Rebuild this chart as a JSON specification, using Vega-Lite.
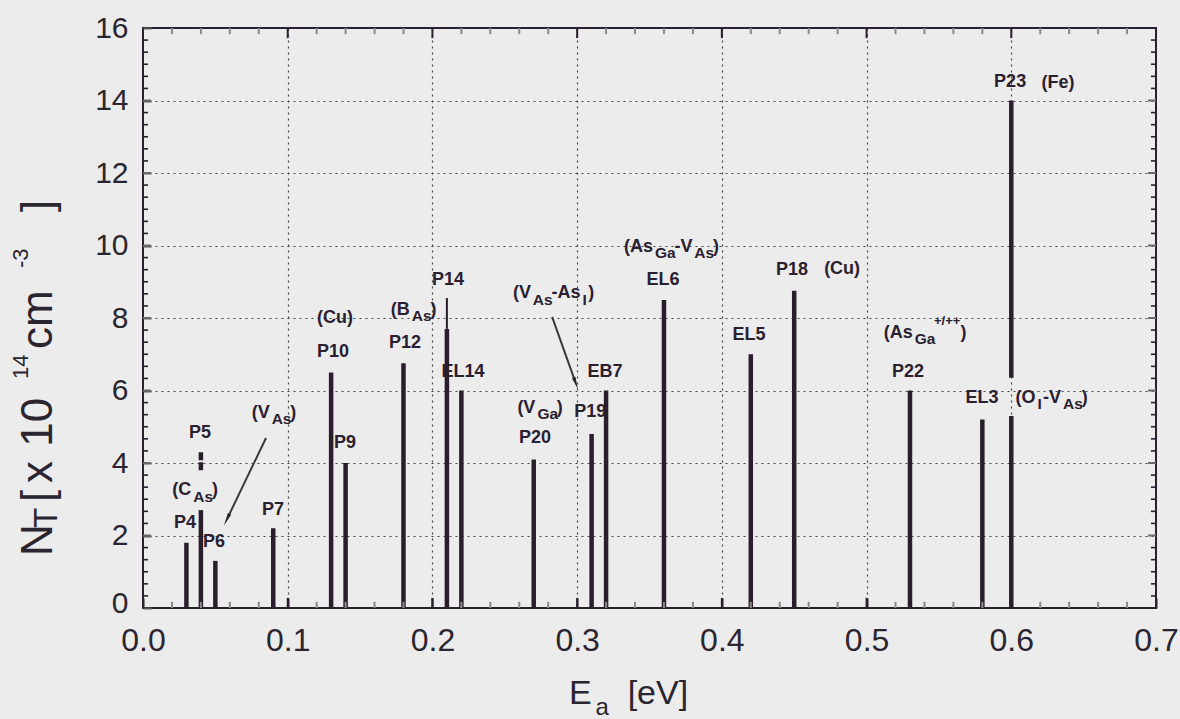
{
  "$schema": "https://vega.github.io/schema/vega-lite/v6.json",
  "width": 1013,
  "height": 580,
  "autosize": {"type": "none"},
  "padding": {"left": 143, "top": 28, "right": 24, "bottom": 111},
  "background": "#ececec",
  "config": {
    "view": {"stroke": "#2b2030", "strokeWidth": 2, "fill": "#ececec"},
    "axis": {"domain": false, "title": null, "labelOverlap": false, "labelFlush": false, "grid": false, "ticks": true}
  },
  "resolve": {"axis": {"x": "independent", "y": "independent"}, "scale": {"size": "independent"}},
  "layer": [
    {
      "data": {"values": [
        {"name": "P4", "E": 0.03, "lo": 0, "hi": 1.8},
        {"name": "CAs", "E": 0.04, "lo": 0, "hi": 2.7},
        {"name": "P6", "E": 0.05, "lo": 0, "hi": 1.3},
        {"name": "P7", "E": 0.09, "lo": 0, "hi": 2.2},
        {"name": "P10", "E": 0.13, "lo": 0, "hi": 6.5},
        {"name": "P9", "E": 0.14, "lo": 0, "hi": 4.0},
        {"name": "P12", "E": 0.18, "lo": 0, "hi": 6.75},
        {"name": "P14", "E": 0.21, "lo": 0, "hi": 7.7},
        {"name": "EL14", "E": 0.22, "lo": 0, "hi": 6.0},
        {"name": "P20", "E": 0.27, "lo": 0, "hi": 4.1},
        {"name": "P19", "E": 0.31, "lo": 0, "hi": 4.8},
        {"name": "EB7", "E": 0.32, "lo": 0, "hi": 6.0},
        {"name": "EL6", "E": 0.36, "lo": 0, "hi": 8.5},
        {"name": "EL5", "E": 0.42, "lo": 0, "hi": 7.0},
        {"name": "P18", "E": 0.45, "lo": 0, "hi": 8.75},
        {"name": "P22", "E": 0.53, "lo": 0, "hi": 6.0},
        {"name": "EL3", "E": 0.58, "lo": 0, "hi": 5.2},
        {"name": "P23", "E": 0.60, "lo": 0, "hi": 5.3},
        {"name": "P23", "E": 0.60, "lo": 6.35, "hi": 14.0}
      ]},
      "mark": {"type": "rule", "strokeWidth": 4.5, "color": "#2a1e2c", "strokeCap": "butt"},
      "encoding": {
        "x": {"field": "E", "type": "quantitative",
          "scale": {"domain": [0, 0.7], "nice": false, "zero": false},
          "axis": {
            "orient": "bottom",
            "values": [0, 0.1, 0.2, 0.3, 0.4, 0.5, 0.6, 0.7],
            "format": ".1f",
            "labelFont": "Liberation Sans", "labelFontSize": 32, "labelColor": "#2b2530",
            "labelPadding": 17,
            "offset": -10,
            "tickSize": 10,
            "tickColor": "#2b2030",
            "tickWidth": 2
          }
        },
        "y": {"field": "lo", "type": "quantitative",
          "scale": {"domain": [0, 16], "nice": false, "zero": false},
          "axis": {
            "orient": "left",
            "values": [0, 2, 4, 6, 8, 10, 12, 14, 16],
            "format": "d",
            "labelFont": "Liberation Sans", "labelFontSize": 30, "labelColor": "#2b2530",
            "labelPadding": 15,
            "labelOffset": {"condition": {"test": "datum.value === 0", "value": -5}, "value": 0},
            "offset": -8,
            "tickSize": 8,
            "tickColor": "#5a5a5a",
            "tickWidth": 2
          }
        },
        "y2": {"field": "hi"}
      }
    },
    {
      "data": {"values": [{"E": 0.21, "lo": 7.7, "hi": 8.55}]},
      "mark": {"type": "rule", "strokeWidth": 2, "color": "#2a1e2c"},
      "encoding": {
        "x": {"field": "E", "type": "quantitative", "axis": null},
        "y": {"field": "lo", "type": "quantitative", "axis": null},
        "y2": {"field": "hi"}
      }
    },
    {
      "data": {"values": [{"E": 0.04, "lo": 3.8, "hi": 4.3}]},
      "mark": {"type": "rule", "strokeWidth": 4.5, "color": "#2a1e2c", "strokeDash": [8, 2]},
      "encoding": {
        "x": {"field": "E", "type": "quantitative",
          "axis": {
            "orient": "bottom",
            "values": [0.1, 0.2, 0.3, 0.4, 0.5, 0.6],
            "labels": false,
            "ticks": false,
            "grid": true,
            "gridDash": [2, 4],
            "gridColor": "#444444",
            "gridWidth": 1.2
          }
        },
        "y": {"field": "lo", "type": "quantitative",
          "axis": {
            "orient": "left",
            "values": [2, 4, 6, 8, 10, 12, 14],
            "labels": false,
            "ticks": false,
            "grid": true,
            "gridDash": [2, 4],
            "gridColor": "#444444",
            "gridWidth": 1.2
          }
        },
        "y2": {"field": "hi"}
      }
    },
    {
      "data": {"values": [{"E": 0.1}, {"E": 0.2}, {"E": 0.3}, {"E": 0.4}, {"E": 0.5}, {"E": 0.6}]},
      "mark": {"type": "rule", "color": "#2b2030", "strokeWidth": 2},
      "encoding": {
        "x": {"field": "E", "type": "quantitative", "axis": null},
        "y": {"datum": 0, "type": "quantitative", "axis": null},
        "y2": {"datum": 0.28}
      }
    },
    {
      "data": {"values": [{"E": 0.1}, {"E": 0.2}, {"E": 0.3}, {"E": 0.4}, {"E": 0.5}, {"E": 0.6}]},
      "mark": {"type": "rule", "color": "#2b2030", "strokeWidth": 2},
      "encoding": {
        "x": {"field": "E", "type": "quantitative", "axis": null},
        "y": {"datum": 16, "type": "quantitative", "axis": null},
        "y2": {"datum": 15.72}
      }
    },
    {
      "data": {"values": [{"E":0.02},{"E":0.04},{"E":0.06},{"E":0.08},{"E":0.12},{"E":0.14},{"E":0.16},{"E":0.18},{"E":0.22},{"E":0.24},{"E":0.26},{"E":0.28},{"E":0.32},{"E":0.34},{"E":0.36},{"E":0.38},{"E":0.42},{"E":0.44},{"E":0.46},{"E":0.48},{"E":0.52},{"E":0.54},{"E":0.56},{"E":0.58},{"E":0.62},{"E":0.64},{"E":0.66},{"E":0.68}]},
      "mark": {"type": "rule", "color": "#8a8a8a", "strokeWidth": 2},
      "encoding": {
        "x": {"field": "E", "type": "quantitative", "axis": null},
        "y": {"datum": 0, "type": "quantitative", "axis": null},
        "y2": {"datum": 0.17}
      }
    },
    {
      "data": {"values": [{"E":0.02},{"E":0.04},{"E":0.06},{"E":0.08},{"E":0.12},{"E":0.14},{"E":0.16},{"E":0.18},{"E":0.22},{"E":0.24},{"E":0.26},{"E":0.28},{"E":0.32},{"E":0.34},{"E":0.36},{"E":0.38},{"E":0.42},{"E":0.44},{"E":0.46},{"E":0.48},{"E":0.52},{"E":0.54},{"E":0.56},{"E":0.58},{"E":0.62},{"E":0.64},{"E":0.66},{"E":0.68}]},
      "mark": {"type": "rule", "color": "#8a8a8a", "strokeWidth": 2},
      "encoding": {
        "x": {"field": "E", "type": "quantitative", "axis": null},
        "y": {"datum": 16, "type": "quantitative", "axis": null},
        "y2": {"datum": 15.83}
      }
    },
    {
      "data": {"values": [{"N": 2}, {"N": 4}, {"N": 6}, {"N": 8}, {"N": 10}, {"N": 12}, {"N": 14}]},
      "mark": {"type": "rule", "color": "#6a6a6a", "strokeWidth": 2},
      "encoding": {
        "y": {"field": "N", "type": "quantitative", "axis": null},
        "x": {"datum": 0, "type": "quantitative", "axis": null},
        "x2": {"datum": 0.0055}
      }
    },
    {
      "data": {"values": [{"N": 2}, {"N": 4}, {"N": 6}, {"N": 8}, {"N": 10}, {"N": 12}, {"N": 14}]},
      "mark": {"type": "rule", "color": "#6a6a6a", "strokeWidth": 2},
      "encoding": {
        "y": {"field": "N", "type": "quantitative", "axis": null},
        "x": {"datum": 0.7, "type": "quantitative", "axis": null},
        "x2": {"datum": 0.6945}
      }
    },
    {
      "data": {"values": [{"N":0.3333},{"N":0.6667},{"N":1},{"N":1.3333},{"N":1.6667},{"N":2.3333},{"N":2.6667},{"N":3},{"N":3.3333},{"N":3.6667},{"N":4.3333},{"N":4.6667},{"N":5},{"N":5.3333},{"N":5.6667},{"N":6.3333},{"N":6.6667},{"N":7},{"N":7.3333},{"N":7.6667},{"N":8.3333},{"N":8.6667},{"N":9},{"N":9.3333},{"N":9.6667},{"N":10.3333},{"N":10.6667},{"N":11},{"N":11.3333},{"N":11.6667},{"N":12.3333},{"N":12.6667},{"N":13},{"N":13.3333},{"N":13.6667},{"N":14.3333},{"N":14.6667},{"N":15},{"N":15.3333},{"N":15.6667}]},
      "mark": {"type": "rule", "color": "#2b2030", "strokeWidth": 1.6},
      "encoding": {
        "y": {"field": "N", "type": "quantitative", "axis": null},
        "x": {"datum": 0, "type": "quantitative", "axis": null},
        "x2": {"datum": 0.0035}
      }
    },
    {
      "data": {"values": [{"N":0.3333},{"N":0.6667},{"N":1},{"N":1.3333},{"N":1.6667},{"N":2.3333},{"N":2.6667},{"N":3},{"N":3.3333},{"N":3.6667},{"N":4.3333},{"N":4.6667},{"N":5},{"N":5.3333},{"N":5.6667},{"N":6.3333},{"N":6.6667},{"N":7},{"N":7.3333},{"N":7.6667},{"N":8.3333},{"N":8.6667},{"N":9},{"N":9.3333},{"N":9.6667},{"N":10.3333},{"N":10.6667},{"N":11},{"N":11.3333},{"N":11.6667},{"N":12.3333},{"N":12.6667},{"N":13},{"N":13.3333},{"N":13.6667},{"N":14.3333},{"N":14.6667},{"N":15},{"N":15.3333},{"N":15.6667}]},
      "mark": {"type": "rule", "color": "#2b2030", "strokeWidth": 1.6},
      "encoding": {
        "y": {"field": "N", "type": "quantitative", "axis": null},
        "x": {"datum": 0.7, "type": "quantitative", "axis": null},
        "x2": {"datum": 0.6965}
      }
    },
    {
      "data": {"values": [
        {"x": 0.085, "y": 4.69, "x2": 0.0585, "y2": 2.49},
        {"x": 0.2827, "y": 8.03, "x2": 0.2986, "y2": 6.25}
      ]},
      "mark": {"type": "rule", "strokeWidth": 2, "color": "#3a3a3a"},
      "encoding": {
        "x": {"field": "x", "type": "quantitative", "axis": null},
        "y": {"field": "y", "type": "quantitative", "axis": null},
        "x2": {"field": "x2"},
        "y2": {"field": "y2"}
      }
    },
    {
      "data": {"values": [{"x": 0.0585, "y": 2.49}]},
      "mark": {"type": "point", "shape": "wedge", "filled": true, "size": 220, "angle": 205.8, "color": "#262626", "opacity": 1},
      "encoding": {
        "x": {"field": "x", "type": "quantitative", "axis": null},
        "y": {"field": "y", "type": "quantitative", "axis": null}
      }
    },
    {
      "data": {"values": [{"x": 0.2986, "y": 6.25}]},
      "mark": {"type": "point", "shape": "wedge", "filled": true, "size": 220, "angle": 160.4, "color": "#262626", "opacity": 1},
      "encoding": {
        "x": {"field": "x", "type": "quantitative", "axis": null},
        "y": {"field": "y", "type": "quantitative", "axis": null}
      }
    },
    {
      "data": {"values": [
        {"t": "P5", "E": 0.0394, "N": 4.83},
        {"t": "P4", "E": 0.029, "N": 2.34},
        {"t": "P6", "E": 0.049, "N": 1.82},
        {"t": "P7", "E": 0.0898, "N": 2.70},
        {"t": "(Cu)", "E": 0.1327, "N": 8.0},
        {"t": "P10", "E": 0.1313, "N": 7.06},
        {"t": "P9", "E": 0.1396, "N": 4.55},
        {"t": "P12", "E": 0.181, "N": 7.31},
        {"t": "P14", "E": 0.2108, "N": 9.05},
        {"t": "EL14", "E": 0.2211, "N": 6.51},
        {"t": "P20", "E": 0.2709, "N": 4.69},
        {"t": "P19", "E": 0.309, "N": 5.41},
        {"t": "EB7", "E": 0.3193, "N": 6.51},
        {"t": "EL6", "E": 0.3594, "N": 9.05},
        {"t": "EL5", "E": 0.4188, "N": 7.53},
        {"t": "P18", "E": 0.4485, "N": 9.32},
        {"t": "(Cu)", "E": 0.4831, "N": 9.35},
        {"t": "P23", "E": 0.5992, "N": 14.51},
        {"t": "(Fe)", "E": 0.6323, "N": 14.48},
        {"t": "P22", "E": 0.5287, "N": 6.51},
        {"t": "EL3", "E": 0.5798, "N": 5.79}
      ]},
      "mark": {"type": "text", "font": "Liberation Sans", "fontWeight": "bold", "fontSize": 18, "align": "center", "baseline": "middle", "color": "#2b2030"},
      "encoding": {
        "x": {"field": "E", "type": "quantitative", "axis": null},
        "y": {"field": "N", "type": "quantitative", "axis": null},
        "text": {"field": "t"}
      }
    },
    {
      "data": {"values": [
        {"t": "(C", "kind": "main", "E": 0.0202, "N": 3.255},
        {"t": "As", "kind": "sub", "E": 0.0347, "N": 3.062},
        {"t": ")", "kind": "main", "E": 0.0476, "N": 3.255},
        {"t": "(V", "kind": "main", "E": 0.0751, "N": 5.379},
        {"t": "As", "kind": "sub", "E": 0.0889, "N": 5.214},
        {"t": ")", "kind": "main", "E": 0.1018, "N": 5.379},
        {"t": "(B", "kind": "main", "E": 0.1712, "N": 8.221},
        {"t": "As", "kind": "sub", "E": 0.1857, "N": 8.055},
        {"t": ")", "kind": "main", "E": 0.1986, "N": 8.221},
        {"t": "(V", "kind": "main", "E": 0.2556, "N": 8.690},
        {"t": "As", "kind": "sub", "E": 0.2694, "N": 8.497},
        {"t": "-As", "kind": "main", "E": 0.2823, "N": 8.690},
        {"t": "I", "kind": "sub", "E": 0.3037, "N": 8.497},
        {"t": ")", "kind": "main", "E": 0.3076, "N": 8.690},
        {"t": "(V", "kind": "main", "E": 0.2587, "N": 5.517},
        {"t": "Ga", "kind": "sub", "E": 0.2726, "N": 5.352},
        {"t": ")", "kind": "main", "E": 0.2859, "N": 5.517},
        {"t": "(As", "kind": "main", "E": 0.3324, "N": 9.959},
        {"t": "Ga", "kind": "sub", "E": 0.3538, "N": 9.793},
        {"t": "-V", "kind": "main", "E": 0.3672, "N": 9.959},
        {"t": "As", "kind": "sub", "E": 0.3810, "N": 9.793},
        {"t": ")", "kind": "main", "E": 0.3939, "N": 9.959},
        {"t": "(As", "kind": "main", "E": 0.5119, "N": 7.586},
        {"t": "Ga", "kind": "sub", "E": 0.5333, "N": 7.421},
        {"t": "+/++", "kind": "sup", "E": 0.5466, "N": 7.917},
        {"t": ")", "kind": "main", "E": 0.5649, "N": 7.586},
        {"t": "(O", "kind": "main", "E": 0.6029, "N": 5.793},
        {"t": "I", "kind": "sub", "E": 0.6181, "N": 5.628},
        {"t": "-V", "kind": "main", "E": 0.6220, "N": 5.793},
        {"t": "As", "kind": "sub", "E": 0.6358, "N": 5.628},
        {"t": ")", "kind": "main", "E": 0.6487, "N": 5.793}
      ]},
      "mark": {"type": "text", "font": "Liberation Sans", "fontWeight": "bold", "align": "left", "baseline": "middle", "color": "#2b2030"},
      "encoding": {
        "x": {"field": "E", "type": "quantitative", "axis": null},
        "y": {"field": "N", "type": "quantitative", "axis": null},
        "text": {"field": "t"},
        "size": {"field": "kind", "type": "nominal", "scale": {"domain": ["main", "sub", "sup"], "range": [18, 13, 12]}, "legend": null}
      }
    },
    {
      "data": {"values": [
        {"t": "N", "kind": "main", "E": -0.0629, "N": 1.434},
        {"t": "T", "kind": "sub", "E": -0.0594, "N": 2.207},
        {"t": "[", "kind": "main", "E": -0.0629, "N": 2.924},
        {"t": "x", "kind": "main", "E": -0.0629, "N": 3.45},
        {"t": "10", "kind": "main", "E": -0.0629, "N": 4.45},
        {"t": "14", "kind": "sup", "E": -0.0795, "N": 6.317},
        {"t": "cm", "kind": "main", "E": -0.0629, "N": 7.145},
        {"t": "-3", "kind": "sup", "E": -0.0795, "N": 9.379},
        {"t": "]", "kind": "main", "E": -0.0629, "N": 10.924}
      ]},
      "mark": {"type": "text", "font": "Liberation Sans", "angle": 270, "align": "left", "baseline": "alphabetic", "color": "#2b2530"},
      "encoding": {
        "x": {"field": "E", "type": "quantitative", "axis": null},
        "y": {"field": "N", "type": "quantitative", "axis": null},
        "text": {"field": "t"},
        "size": {"field": "kind", "type": "nominal", "scale": {"domain": ["main", "sub", "sup"], "range": [44, 22, 24]}, "legend": null}
      }
    },
    {
      "data": {"values": [
        {"t": "E", "kind": "main", "E": 0.2944, "N": -2.65},
        {"t": "a", "kind": "sub", "E": 0.3127, "N": -2.95},
        {"t": "[eV]", "kind": "main", "E": 0.3349, "N": -2.65}
      ]},
      "mark": {"type": "text", "font": "Liberation Sans", "align": "left", "baseline": "alphabetic", "color": "#2b2530"},
      "encoding": {
        "x": {"field": "E", "type": "quantitative", "axis": null},
        "y": {"field": "N", "type": "quantitative", "axis": null},
        "text": {"field": "t"},
        "size": {"field": "kind", "type": "nominal", "scale": {"domain": ["main", "sub"], "range": [34, 24]}, "legend": null}
      }
    }
  ]
}
